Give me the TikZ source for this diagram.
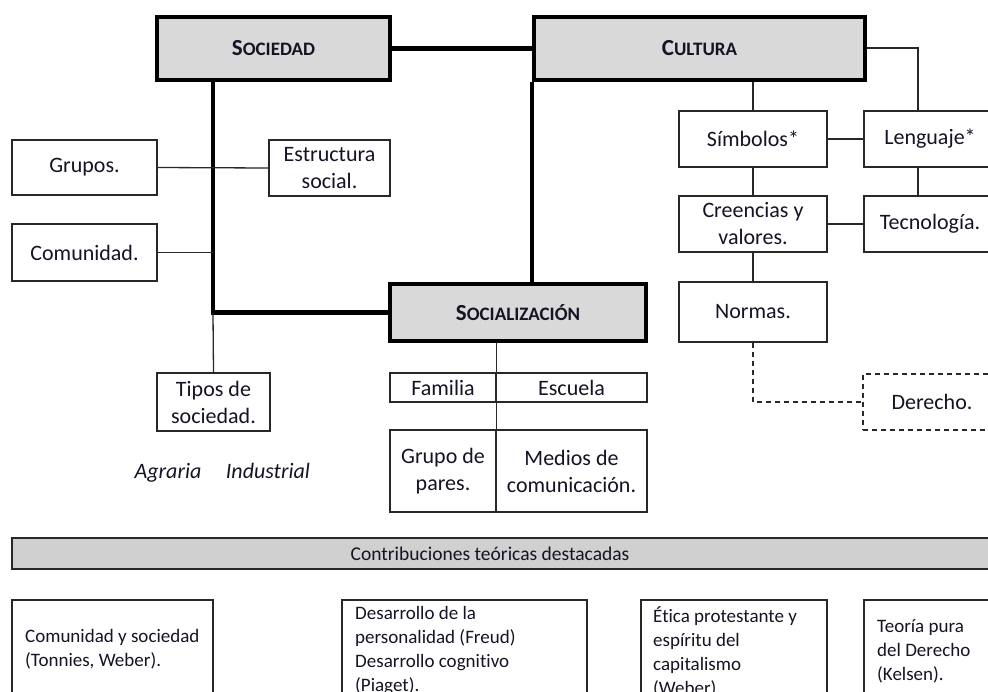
\documentclass[tikz,border=0pt]{standalone}
\usepackage{fontspec}
\setmainfont{Carlito}[Ligatures=NoCommon]
\usetikzlibrary{calc}
\definecolor{ink}{RGB}{20,20,36}
\definecolor{boxgray}{RGB}{217,217,217}
\definecolor{bandgray}{RGB}{208,208,208}
\definecolor{rulegray}{RGB}{40,40,40}
% bold word with a large initial and smaller capitals
\newcommand{\scword}[2]{{\bfseries\fontsize{23}{23}\selectfont #1\fontsize{19}{23}\selectfont #2}}

\begin{document}
\begin{tikzpicture}[x=1pt,y=-1pt,
  every node/.style={text=ink, font=\fontsize{22}{27}\selectfont},
  plain/.style={draw=rulegray, line width=1.3pt, rectangle, inner sep=0pt, align=center, fill=white},
  titlebox/.style={draw=black, line width=4.5pt, fill=boxgray, rectangle, inner sep=0pt},
  bond/.style={draw=black, line width=4.5pt},
  link/.style={draw=rulegray, line width=1.3pt},
  dashlink/.style={draw=rulegray, line width=1.3pt, dash pattern=on 5pt off 4pt},
  kind/.style={anchor=base, font=\itshape\fontsize{22}{27}\selectfont},
  note/.style={anchor=north west, align=left, inner sep=0pt, font=\fontsize{19}{24}\selectfont}
]
\useasboundingbox (0,0) rectangle (988,691);
\clip (0,0) rectangle (988,691);

% helper coordinates for off-centre trunks
\coordinate (sjoint) at (213,313);
\coordinate (lx) at (918,0);

% main concepts
\node[titlebox, minimum width=233pt, minimum height=63pt] (sociedad) at (273.5,48.5) {\scword{S}{OCIEDAD}};
\node[titlebox, minimum width=331pt, minimum height=63pt] (cultura) at (699.5,48.5) {\scword{C}{ULTURA}};
\node[titlebox, minimum width=256pt, minimum height=57pt] (socializ) at (518,312.5) {\scword{S}{OCIALIZACIÓN}};

% society branch
\node[plain, minimum width=145pt, minimum height=55pt] (grupos) at (84.5,167.5) {Grupos.};
\node[plain, minimum width=145pt, minimum height=57pt] (comunidad) at (84.5,252.5) {Comunidad.};
\node[plain, minimum width=121pt, minimum height=56pt] (estructura) at (329.5,168) {Estructura\\social.};
\node[plain, minimum width=113pt, minimum height=58pt] (tipos) at (213.5,402) {Tipos de\\sociedad.};
\node[kind] (agraria) at (168,478) {Agraria};
\node[kind] (industrial) at (268,478) {Industrial};

% socialisation agents
\node[plain, minimum width=106pt, minimum height=29pt] (familia) at (443,387.5) {Familia};
\node[plain, minimum width=151pt, minimum height=29pt] (escuela) at (571.5,387.5) {Escuela};
\node[plain, minimum width=106pt, minimum height=82pt] (pares) at (443,471) {Grupo de\\pares.};
\node[plain, minimum width=151pt, minimum height=82pt] (medios) at (571.5,471) {Medios de\\comunicación.};

% culture branch
\node[plain, minimum width=148pt, minimum height=56pt] (simbolos) at (753,139) {Símbolos*};
\node[plain, minimum width=132pt, minimum height=56pt] (lenguaje) at (930,139) {Lenguaje*};
\node[plain, minimum width=148pt, minimum height=56pt] (creencias) at (753,224) {Creencias y\\valores.};
\node[plain, minimum width=132pt, minimum height=56pt] (tecnologia) at (930,224) {Tecnología.};
\node[plain, minimum width=148pt, minimum height=60pt] (normas) at (753,312) {Normas.};
\node[plain, dashed, dash pattern=on 5pt off 4pt, minimum width=138pt, minimum height=56pt] (derecho) at (932,402) {Derecho.};

% thick links between the main concepts
\draw[bond] (sociedad.east) -- (cultura.west);
\draw[bond] (sociedad.south -| sjoint) |- (socializ.west);
\draw[bond] (cultura.south west) -- (cultura.south west |- socializ.north);

% thin links
\draw[link] (grupos.east) -- (estructura.west);
\draw[link] (comunidad.east) -- (comunidad.east -| sjoint);
\draw[link] (sjoint) -- (tipos.north);
\draw[link] (socializ.south -| familia.east) -- (pares.south east);
\draw[link] (simbolos.north |- cultura.south) -- (simbolos.north);
\draw[link] (cultura.east |- 0,48) -| (lenguaje.north -| lx);
\draw[link] (simbolos.east) -- (lenguaje.west);
\draw[link] (simbolos.south) -- (creencias.north);
\draw[link] (lenguaje.south -| lx) -- (tecnologia.north -| lx);
\draw[link] (creencias.east) -- (tecnologia.west);
\draw[link] (creencias.south) -- (normas.north);
\draw[dashlink] (normas.south) |- (derecho.west);

% theoretical contributions
\node[draw=rulegray, line width=1.3pt, fill=bandgray, rectangle, inner sep=0pt, minimum width=1000pt, minimum height=31pt] (band) at (512,553.5) {};
\node[font=\fontsize{19.5}{24}\selectfont] (bandtext) at (490,553.5) {Contribuciones teóricas destacadas};

\node[plain, minimum width=201pt, minimum height=140pt] (b1) at (112.5,670) {};
\node[plain, minimum width=245pt, minimum height=140pt] (b2) at (464.5,670) {};
\node[plain, minimum width=186pt, minimum height=140pt] (b3) at (734,670) {};
\node[plain, minimum width=140pt, minimum height=140pt] (b4) at (934,670) {};

\node[note] (t1) at (25,629) {Comunidad y sociedad\\(Tonnies, Weber).};
\node[note] (t2) at (355,606) {Desarrollo de la\\personalidad (Freud)\\Desarrollo cognitivo\\(Piaget).};
\node[note] (t3) at (653,606) {Ética protestante y\\espíritu del\\capitalismo\\(Weber).};
\node[note] (t4) at (877,619) {Teoría pura\\del Derecho\\(Kelsen).};
\end{tikzpicture}
\end{document}
